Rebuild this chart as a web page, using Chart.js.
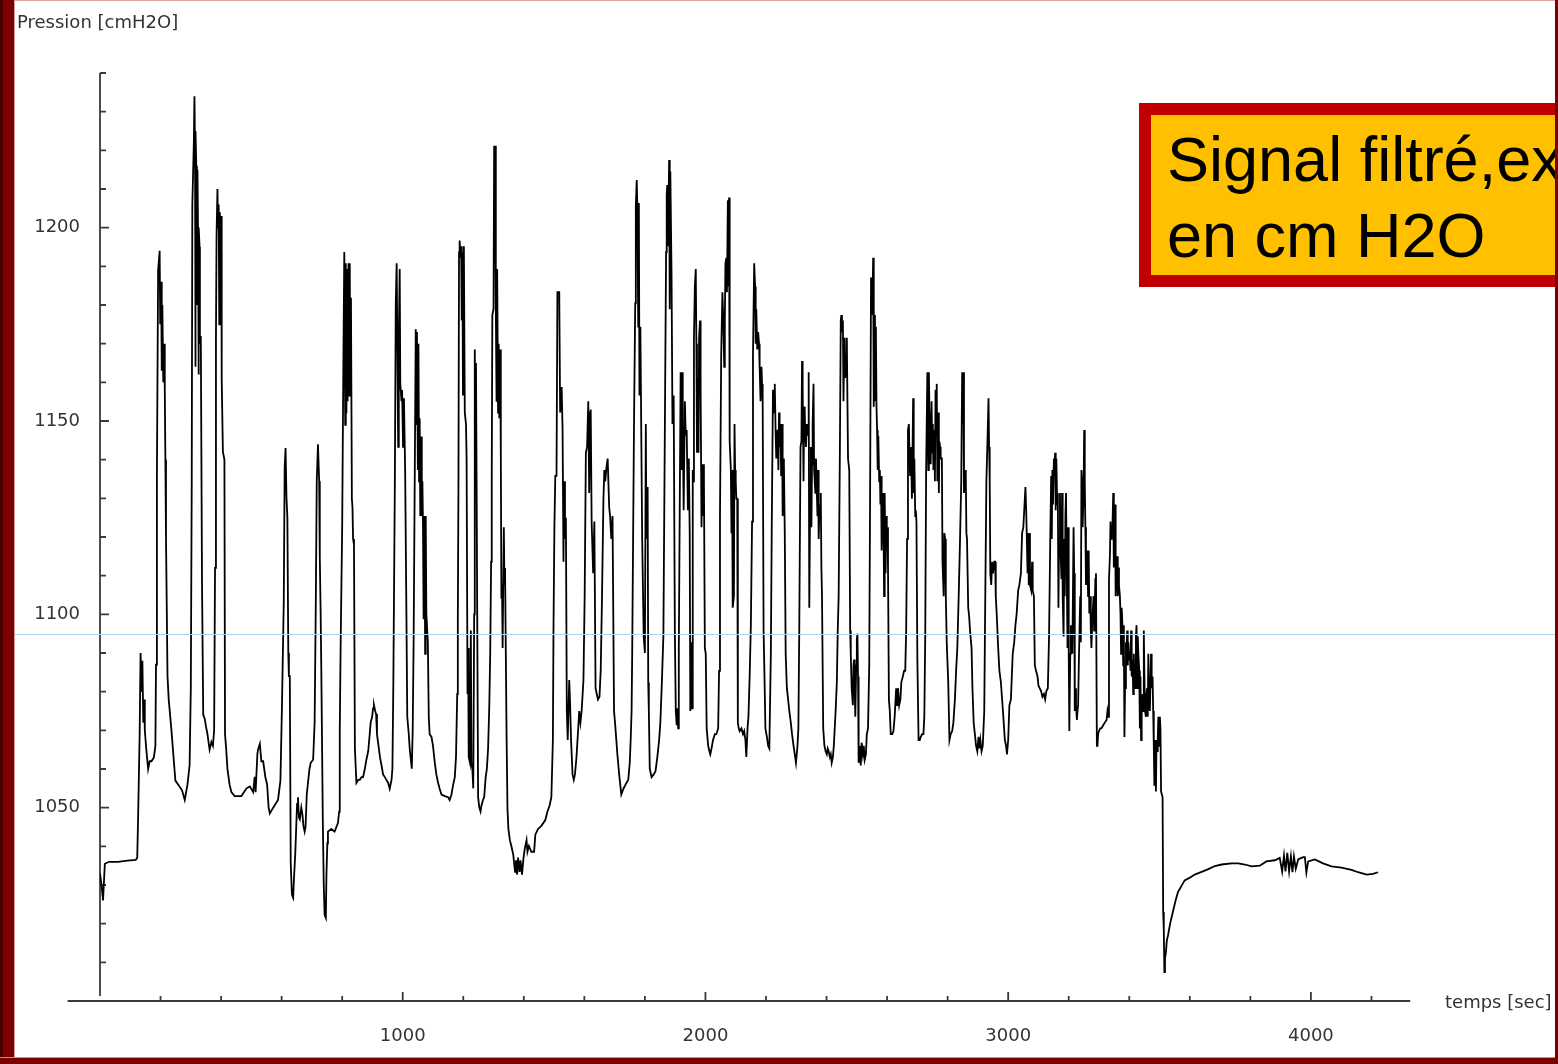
<!DOCTYPE html>
<html lang="fr">
<head>
<meta charset="utf-8">
<title>Pression [cmH2O]</title>
<script src="https://cdn.jsdelivr.net/npm/chart.js@4/dist/chart.umd.min.js"></script>
<style>
  html, body { margin: 0; padding: 0; background: #fff; }
  #page { position: relative; width: 1558px; height: 1064px; overflow: hidden; background: #fff; }
  #chart { position: absolute; left: 0; top: 0; }
  .axis-title { position: absolute; font-family: 'DejaVu Sans', sans-serif; font-size: 18px; line-height: 20px; color: #333; white-space: nowrap; }
  #yTitle { left: 17px; top: 12px; }
  #xTitle { left: 1445px; top: 992px; }
  #note { position: absolute; left: 1139px; top: 103px; width: 416px; height: 184px; overflow: hidden; }
  #note .box { position: absolute; left: 0; top: 0; width: 800px; height: 160px; border: 12px solid #c00000; background: #ffc000; }
  #note .txt { position: absolute; left: 16px; top: 6px; font-family: 'Liberation Sans', Arial, sans-serif; font-size: 63px; line-height: 76px; color: #000; white-space: nowrap; }
  .frame { position: absolute; }
  #frameTop { left: 0; top: 0; width: 1558px; height: 1px; background: #dfa3a3; }
  #frameLeft { left: 0; top: 0; width: 14px; height: 1064px; background: linear-gradient(to right, #4a0000 0, #4a0000 3px, #7b0000 3px, #7b0000 14px); border-right: 1px solid #d59a9a; }
  #frameBottom { left: 0; top: 1057px; width: 1558px; height: 7px; background: #7b0000; border-top: 1px solid #c98a8a; box-sizing: border-box; }
  #frameRight { left: 1555px; top: 0; width: 3px; height: 1064px; background: #7b0000; }
</style>
</head>
<body>
<div id="page">
  <canvas id="chart" width="1558" height="1064"></canvas>
  <div class="axis-title" id="yTitle">Pression [cmH2O]</div>
  <div class="axis-title" id="xTitle">temps [sec]</div>
  <div id="note"><div class="box"><div class="txt">Signal filtré,ex<br>en cm H2O</div></div></div>
  <div class="frame" id="frameTop"></div>
  <div class="frame" id="frameLeft"></div>
  <div class="frame" id="frameBottom"></div>
  <div class="frame" id="frameRight"></div>
</div>
<script>
// Tick labels shown on each axis
const xTickLabels = [1000, 2000, 3000, 4000];
const yTickLabels = [1050, 1100, 1150, 1200];

// Axis extents (seconds / cmH2O)
const xRange = [0, 4400];
const yRange = [1000, 1240];
const xAxisSpan = [-107, 4328];
const yAxisFoot = 1001.3;
const guideLevel = 1094.8;

// Pressure samples as [temps (s), pression (cmH2O)]
const mesures_0000_0624 = [
  [0,1033],[5,1030],[10,1026],[16,1035.5],[30,1036],[60,1036],[90,1036.3],[118,1036.5],[123,1037],[126,1048],
  [131,1069],[134,1090],[138,1080],[140,1088],[143,1072],[146,1078],[148,1070],[153,1065],[159,1060],[164,1062],
  [170,1062],[178,1063],[183,1066],[185,1087],[188,1136],[192,1189],[197,1194],[199,1175],[202,1186],[204,1163],
  [206,1180],[209,1160],[212,1170],[214,1158],[216,1140],[218,1120],[223,1084],[227,1078],[236,1070],[249,1057],
  [258,1056],[271,1054.5],[280,1052],[289,1056],[296,1061],[300,1081],[303,1134],[305,1206],[310,1222],[312,1234],
  [314,1219],[315,1164],[316,1225],[318,1216],[320,1180],[322,1215],[324,1198],[325,1162],[327,1200],[329,1195],
  [330,1170],[333,1172],[337,1108],[341,1074],[346,1073],[350,1071],[355,1069],[362,1065],[368,1067],[373,1066],
  [377,1070],[380,1112],[383,1171],[385,1198],[388,1210],[390,1200],[392,1206],[394,1175],[396,1204],[399,1178],
  [401,1203],[402,1161],[406,1142],[411,1140],[413,1069],[417,1065],[421,1060],[428,1056],[434,1054],[445,1053],
  [467,1053],[484,1055],[495,1055.5],[506,1054],[511,1058],[514,1054],[520,1064],[522,1065],[528,1066.5],[533,1062],
  [539,1062],[546,1058],[552,1056],[557,1050],[561,1048.5],[572,1050],[588,1052],[596,1057],[601,1076],[607,1103],
  [610,1138],[613,1143],[616,1130],[619,1125],[622,1090],[624,1084]
];

const mesures_0627_1257 = [
  [627,1084],[630,1035.6],[634,1027.5],[638,1026.7],[641,1032],[645,1038],[651,1051],[654,1052.7],[657,1047.5],[660,1047],
  [665,1050],[669,1048],[672,1045.3],[676,1043.8],[679,1045],[683,1053.4],[687,1056.4],[692,1060],[696,1061.6],[704,1062.4],
  [709,1072],[713,1104],[716,1134.4],[720,1144],[724,1134.4],[726,1115],[729,1099.5],[731,1086],[736,1046.8],[739,1030.4],
  [742,1022.3],[746,1021.5],[748,1032.7],[751,1040.8],[753,1043.8],[764,1044.5],[775,1043.8],[786,1046],[790,1049],[792,1069.8],
  [795,1092.8],[800,1122.5],[804,1166.3],[807,1193.7],[810,1149],[812,1190.8],[814,1152],[816,1189.3],[818,1155.1],[821,1190.8],
  [823,1156.6],[825,1190.8],[827,1156.6],[829,1181.9],[832,1129.9],[834,1127.7],[836,1119.5],[839,1118],[842,1065.3],[847,1056.4],
  [853,1057.2],[858,1057.2],[864,1057.9],[869,1057.9],[875,1060.1],[880,1062.4],[886,1064.6],[891,1069],[894,1072],[899,1073.5],
  [902,1075.7],[905,1076.5],[909,1075],[912,1074.2],[915,1069],[920,1066],[925,1063],[930,1060.9],[935,1058.6],[941,1057.9],
  [946,1057.2],[952,1056.4],[957,1054.9],[963,1057.2],[966,1060.1],[969,1082.4],[974,1134.4],[977,1180.4],[980,1190.8],[982,1171.5],
  [985,1143.3],[987,1171.5],[990,1189.3],[992,1159.6],[996,1155.1],[998,1158],[1001,1143.3],[1004,1155.9],[1008,1137.3],[1012,1101.7],
  [1015,1073.5],[1020,1069],[1023,1065.3],[1026,1063],[1030,1060.1],[1033,1070.5],[1036,1092.8],[1040,1138.8],[1043,1173.7],[1045,1149.2],
  [1047,1173],[1050,1137.3],[1052,1170],[1054,1134.4],[1056,1150.7],[1058,1125.4],[1061,1146],[1063,1125.4],[1065,1134.4],[1067,1122.5],
  [1069,1098.7],[1072,1125.4],[1074,1089.8],[1076,1125.4],[1078,1100.2],[1080,1100.2],[1083,1092.8],[1086,1073.5],[1089,1069],[1095,1068.3],
  [1100,1066],[1106,1061.6],[1111,1058.6],[1117,1056.4],[1122,1054.9],[1128,1053.4],[1139,1053],[1150,1052.7],[1155,1052],[1161,1053.4],
  [1166,1055.7],[1172,1057.9],[1176,1063.1],[1180,1079.4],[1182,1098.7],[1184,1132.1],[1186,1193.7],[1188,1196.7],[1191,1192.2],[1193,1195.2],
  [1195,1176],[1197,1193.7],[1199,1156.6],[1202,1195.2],[1205,1152.2],[1209,1149.2],[1211,1140.3],[1214,1079.4],[1216,1091.3],[1218,1063.1],
  [1222,1061.6],[1225,1095.8],[1227,1061.6],[1230,1060],[1233,1055],[1236,1100],[1238,1168.5],[1240,1150],[1242,1165],[1244,1134.4],
  [1246,1101],[1249,1052.7],[1253,1050],[1257,1049]
];

const mesures_1260_1872 = [
  [1260,1050.5],[1265,1052],[1269,1052.7],[1274,1057.9],[1278,1060.1],[1282,1065.3],[1286,1076.5],[1289,1089.8],[1292,1113.6],[1294,1134.4],
  [1296,1177.4],[1300,1179],[1302,1221.2],[1305,1215],[1307,1221.2],[1308,1179],[1310,1155],[1312,1189.3],[1315,1152.2],[1317,1170],
  [1319,1150.7],[1322,1168.5],[1324,1141.8],[1326,1104],[1328,1107.6],[1330,1091.3],[1334,1122.5],[1336,1107.6],[1338,1112],[1343,1069],
  [1346,1049.7],[1349,1044.5],[1354,1041.6],[1359,1040],[1365,1037.9],[1371,1033.4],[1374,1036.4],[1378,1032.7],[1381,1037.1],[1386,1033.4],
  [1389,1036.4],[1394,1032.7],[1399,1037.1],[1403,1039.3],[1409,1041.6],[1412,1038.6],[1417,1040.1],[1425,1038.6],[1434,1038.6],[1438,1043],
  [1447,1044.5],[1458,1045.3],[1471,1046.8],[1478,1049],[1485,1050.5],[1491,1052.7],[1496,1067.5],[1498,1095.8],[1501,1122.5],[1504,1135.8],
  [1508,1135.8],[1511,1183.3],[1517,1183.3],[1520,1152.2],[1525,1158.8],[1528,1147.7],[1531,1113.6],[1533,1134.4],[1536,1119.5],[1539,1125],
  [1542,1075],[1545,1067.5],[1550,1083],[1553,1076.5],[1556,1067.5],[1561,1058.6],[1565,1057.2],[1569,1058.6],[1574,1063.1],[1578,1068.3],
  [1583,1075],[1587,1072],[1591,1075],[1597,1083],[1601,1104.7],[1605,1141.8],[1609,1143.3],[1613,1155.1],[1616,1131.4],[1619,1152.2],
  [1621,1153],[1624,1124],[1629,1110.6],[1633,1124],[1637,1080.9],[1641,1079.4],[1645,1078],[1650,1078.7],[1654,1085.4],[1658,1103.2],
  [1663,1129.9],[1666,1137.3],[1669,1134.4],[1673,1138],[1677,1140.3],[1682,1127.7],[1685,1125.4],[1689,1119.5],[1693,1125.4],[1698,1075],
  [1702,1071.3],[1709,1063.8],[1715,1058.6],[1722,1053.4],[1729,1054.9],[1739,1056.4],[1745,1057.2],[1750,1061.6],[1753,1067.5],[1756,1075],
  [1758,1089.8],[1761,1119.5],[1764,1149.2],[1768,1180.4],[1770,1205.6],[1773,1212.3],[1775,1205.6],[1778,1174.4],[1780,1206.4],[1782,1156.6],
  [1785,1174.4],[1791,1119.5],[1796,1094.3],[1800,1090],[1803,1149.2],[1805,1119.5],[1807,1125.4],[1809,1132.9],[1811,1082.4],[1813,1075],
  [1816,1060.1],[1822,1057.9],[1829,1058.6],[1835,1059.4],[1841,1063.1],[1847,1067.5],[1851,1072],[1856,1082.4],[1861,1094.3],[1866,1149.2],
  [1870,1193.7],[1872,1208.6]
];

const mesures_1874_2506 = [
  [1874,1211],[1876,1195.2],[1880,1217.5],[1882,1178.9],[1884,1214.5],[1888,1187.8],[1891,1149.2],[1895,1156.6],[1899,1095],[1902,1075],
  [1905,1071.3],[1907,1075.7],[1910,1070.5],[1912,1091.3],[1915,1126.9],[1918,1162.6],[1921,1137.3],[1923,1162.6],[1925,1149.2],[1928,1126.9],
  [1932,1155.1],[1935,1146.2],[1938,1147.7],[1942,1126.9],[1945,1140.3],[1948,1121],[1950,1075],[1954,1092.8],[1956,1075.7],[1958,1137.3],
  [1960,1134.4],[1962,1171.5],[1965,1184.8],[1968,1189.3],[1970,1170],[1972,1141.8],[1975,1161.1],[1977,1141.8],[1979,1171.5],[1982,1176],
  [1984,1158.1],[1987,1122.5],[1989,1138.8],[1991,1125.4],[1993,1138.8],[1995,1134.4],[1998,1091.3],[2001,1089.8],[2004,1070.5],[2009,1066],
  [2013,1064.6],[2016,1063.8],[2020,1065.3],[2025,1067.5],[2031,1069],[2036,1069],[2042,1070.5],[2045,1085.4],[2048,1125.4],[2052,1167],
  [2056,1183.3],[2059,1176],[2062,1164],[2064,1176],[2066,1190.8],[2069,1192.2],[2071,1183.3],[2074,1207.1],[2076,1184.8],[2078,1207.8],
  [2080,1144.7],[2084,1137.3],[2086,1121],[2088,1137.3],[2090,1101.7],[2094,1104.7],[2096,1149.2],[2098,1137.3],[2100,1134.4],[2102,1129.9],
  [2105,1129.9],[2107,1072],[2110,1070.5],[2113,1069.8],[2119,1070.5],[2124,1069],[2128,1069.8],[2132,1067.5],[2135,1063.1],[2139,1070.5],
  [2142,1073.5],[2146,1083.9],[2150,1097.2],[2154,1124],[2157,1167],[2161,1190.8],[2164,1184.8],[2166,1170],[2168,1178.9],[2171,1168.5],
  [2174,1173],[2177,1170],[2179,1164],[2182,1155.1],[2185,1164],[2187,1159.6],[2189,1155.1],[2192,1095.8],[2195,1083.9],[2198,1070.5],
  [2203,1068.3],[2207,1066],[2211,1065.3],[2216,1089.8],[2219,1122.5],[2223,1158.1],[2227,1152.2],[2229,1159.6],[2232,1146.2],[2234,1140.3],
  [2238,1147.7],[2241,1137.3],[2243,1152.2],[2245,1143.3],[2248,1149.2],[2250,1135.8],[2253,1149.2],[2255,1125.4],[2259,1140.3],[2262,1121],
  [2265,1089.8],[2269,1080.9],[2273,1078],[2277,1075],[2282,1072],[2286,1069],[2291,1066],[2295,1063.8],[2299,1061.6],[2304,1066],
  [2307,1070.5],[2310,1097.2],[2314,1143.3],[2317,1144.7],[2319,1165.5],[2321,1159.6],[2324,1134.4],[2326,1153.7],[2328,1152.2],[2330,1146.2],
  [2332,1143.3],[2335,1149.2],[2337,1146.2],[2339,1147.7],[2341,1162.6],[2343,1101.7],[2346,1131.4],[2348,1143.3],[2350,1122.5],[2352,1138.8],
  [2354,1149.2],[2357,1159.6],[2359,1137.3],[2361,1134.4],[2363,1131.4],[2365,1140.3],[2368,1131.4],[2370,1125.4],[2372,1137.3],[2374,1119.5],
  [2377,1128.4],[2379,1125.4],[2381,1131.4],[2383,1112.1],[2385,1104.7],[2389,1070.5],[2393,1066],[2397,1064.6],[2401,1063.8],[2404,1065.3],
  [2407,1064.6],[2411,1063.1],[2414,1063.8],[2417,1061.6],[2421,1063.1],[2424,1066],[2427,1070.5],[2430,1075],[2434,1082.4],[2437,1095.8],
  [2440,1104.7],[2444,1141.8],[2447,1176],[2449,1177.4],[2451,1173],[2454,1176],[2456,1155.1],[2458,1168.5],[2460,1171.5],[2462,1161.1],
  [2465,1167],[2467,1171.5],[2469,1155.1],[2471,1140.3],[2475,1137.3],[2478,1095.8],[2480,1089.8],[2483,1080.9],[2487,1076.5],[2489,1086.8],
  [2491,1088.3],[2493,1080.9],[2495,1073.5],[2498,1086.8],[2500,1093.5],[2502,1095],[2504,1083.9],[2506,1061.6]
];

const mesures_2510_3131 = [
  [2510,1066],[2513,1060.9],[2516,1066.8],[2520,1063.8],[2523,1066],[2526,1062.4],[2530,1063.8],[2533,1069],[2537,1070.5],[2541,1086.8],
  [2544,1132.9],[2547,1187.1],[2551,1177.4],[2554,1192.2],[2556,1153.7],[2558,1177.4],[2560,1155.1],[2563,1174.4],[2565,1153.7],[2567,1147.7],
  [2569,1137.3],[2571,1146.2],[2574,1134.4],[2576,1137.3],[2578,1128.4],[2580,1135.8],[2582,1116.5],[2586,1131.4],[2588,1126.9],[2590,1104.7],
  [2592,1131.4],[2595,1110.6],[2597,1125.4],[2599,1119.5],[2601,1122.5],[2603,1112.1],[2606,1077.9],[2609,1075],[2612,1069],[2617,1069],
  [2621,1069.8],[2625,1073.5],[2630,1080.9],[2633,1076.5],[2636,1080.9],[2640,1076.5],[2644,1078],[2647,1082.4],[2652,1083.9],[2656,1085.4],
  [2660,1085.4],[2663,1095.8],[2666,1119.5],[2669,1147.7],[2672,1149.2],[2674,1140.3],[2676,1135.8],[2679,1143.3],[2682,1129.9],[2684,1141.8],
  [2686,1155.9],[2688,1131.4],[2690,1140.3],[2693,1125.4],[2695,1126.9],[2697,1124],[2700,1088.3],[2704,1067.5],[2708,1067.5],[2711,1068.3],
  [2716,1069],[2720,1069],[2723,1073.5],[2726,1094.3],[2729,1137.3],[2733,1162.6],[2736,1137.3],[2738,1162.6],[2740,1152.2],[2742,1149.2],
  [2744,1138.8],[2747,1155.1],[2749,1141.8],[2751,1149.2],[2753,1137.3],[2755,1147.7],[2758,1134.4],[2760,1158.1],[2762,1146.2],[2764,1159.6],
  [2766,1134.4],[2769,1152.2],[2771,1131.4],[2773,1144.7],[2775,1143.3],[2777,1140.3],[2781,1140.3],[2783,1113.6],[2785,1109.1],[2787,1104.7],
  [2789,1121],[2792,1119.5],[2794,1104.7],[2797,1092.8],[2802,1082.4],[2806,1067.5],[2810,1069],[2815,1069.8],[2819,1072],[2824,1078],
  [2828,1085.4],[2832,1091.3],[2837,1106.2],[2841,1119.5],[2845,1134.4],[2848,1162.6],[2850,1149.2],[2852,1162.6],[2854,1131.4],[2858,1137.3],
  [2860,1135.8],[2862,1121],[2864,1119.5],[2868,1101.7],[2871,1099.5],[2874,1095.8],[2879,1091.3],[2882,1080.9],[2886,1072],[2890,1069],
  [2894,1066],[2898,1064.6],[2902,1068.3],[2905,1065.3],[2908,1067.5],[2912,1064.6],[2916,1066],[2921,1075],[2924,1101.7],[2928,1134.4],
  [2932,1146.2],[2935,1155.9],[2937,1143.3],[2939,1134.4],[2941,1110.6],[2944,1107.6],[2947,1113.6],[2950,1110.6],[2954,1113.6],[2957,1113.6],
  [2959,1104.7],[2962,1100.2],[2967,1091.3],[2971,1085.4],[2976,1082.4],[2980,1077.9],[2984,1073.5],[2989,1067.5],[2993,1066],[2996,1063.8],
  [3000,1067.5],[3004,1076.5],[3009,1078],[3012,1083.9],[3015,1089.8],[3020,1092.8],[3024,1097.2],[3028,1100.2],[3033,1106.2],[3037,1107.6],
  [3042,1110.6],[3046,1121],[3050,1122.5],[3054,1128.4],[3057,1132.9],[3060,1125.4],[3064,1110.6],[3066,1121],[3068,1107.6],[3070,1121],
  [3072,1107.6],[3076,1106.2],[3079,1113.6],[3081,1106.2],[3085,1104.7],[3088,1086.8],[3092,1085.4],[3097,1083.9],[3100,1081.6],[3104,1080.9],
  [3109,1080.1],[3113,1078.7],[3118,1079.4],[3122,1078],[3126,1080.1],[3131,1080.9]
];

const mesures_3135_3760 = [
  [3135,1094.3],[3139,1119.5],[3142,1135.8],[3144,1119.5],[3146,1137.3],[3148,1128.4],[3151,1140.3],[3153,1137.3],[3155,1141.8],[3157,1126.9],
  [3159,1140.3],[3162,1128.4],[3164,1131.4],[3166,1101.7],[3168,1118],[3171,1131.4],[3173,1116.5],[3176,1109.1],[3178,1131.4],[3180,1104.7],
  [3183,1094.3],[3185,1119.5],[3187,1104.7],[3189,1125.4],[3191,1131.4],[3194,1131.4],[3196,1091.3],[3198,1122.5],[3200,1089.8],[3202,1069.8],
  [3205,1089.8],[3207,1097.2],[3209,1095.8],[3212,1089.8],[3216,1122.5],[3218,1110.6],[3220,1075],[3222,1080.9],[3224,1076.5],[3227,1072.7],
  [3229,1075],[3231,1076.5],[3234,1089.8],[3238,1104.7],[3240,1092.8],[3242,1137.3],[3244,1134.4],[3246,1122.5],[3249,1131.4],[3251,1147.7],
  [3253,1134.4],[3255,1122.5],[3257,1107.6],[3260,1116.5],[3262,1113.6],[3264,1104.7],[3266,1116.5],[3268,1100.2],[3271,1104.7],[3273,1095.8],
  [3275,1091.3],[3278,1098.7],[3282,1104.7],[3284,1095.8],[3286,1101.7],[3288,1109.1],[3290,1110.6],[3293,1066],[3295,1066],[3297,1069],
  [3300,1069.8],[3304,1070.5],[3308,1070.5],[3314,1071.3],[3319,1072],[3325,1072.7],[3328,1075],[3331,1073.5],[3333,1109.1],[3336,1115],
  [3338,1124],[3340,1119.5],[3342,1122.5],[3344,1121],[3347,1131.4],[3349,1112.1],[3351,1118],[3353,1128.4],[3355,1104.7],[3358,1112.1],
  [3360,1115],[3362,1104.7],[3364,1112.1],[3366,1107.6],[3369,1104.7],[3371,1100.2],[3373,1089.8],[3375,1101.7],[3378,1095.8],[3380,1086.8],
  [3382,1097.2],[3384,1068.3],[3386,1080.9],[3389,1092.8],[3391,1089.8],[3393,1095.8],[3395,1086.8],[3397,1092.8],[3400,1088.3],[3402,1089.8],
  [3404,1085.4],[3406,1095.8],[3408,1083.9],[3411,1088.3],[3413,1079.4],[3415,1089.8],[3417,1083.9],[3419,1080.9],[3422,1094.3],[3424,1097.2],
  [3426,1080.9],[3428,1094.3],[3430,1089.8],[3433,1085.4],[3435,1070.5],[3437,1083.9],[3439,1067.5],[3441,1076.5],[3444,1079.4],[3446,1075],
  [3448,1095.8],[3450,1083.9],[3452,1075],[3455,1073.5],[3457,1079.4],[3459,1080.9],[3461,1073.5],[3463,1089.8],[3466,1076.5],[3468,1075],
  [3470,1082.4],[3472,1089.8],[3474,1080.9],[3477,1083.9],[3479,1075],[3481,1066],[3483,1055.7],[3485,1067.5],[3488,1054.2],[3490,1067.5],
  [3492,1064.6],[3494,1067.5],[3496,1073.5],[3499,1066],[3501,1073.5],[3503,1070.5],[3505,1054.2],[3507,1054.2],[3510,1052.7],[3512,1023],
  [3514,1018.6],[3516,1007.5],[3518,1011],[3521,1012.6],[3524,1015.6],[3528,1017],[3535,1020],[3544,1023],[3553,1026],[3561,1028.2],
  [3572,1029.7],[3583,1031.2],[3600,1031.9],[3616,1032.7],[3639,1033.4],[3661,1034.1],[3683,1034.9],[3705,1035.3],[3738,1035.6],[3760,1035.6]
];

const mesures_3782_4222 = [
  [3782,1035.3],[3804,1034.8],[3831,1035],[3853,1036.1],[3881,1036.4],[3897,1037],[3905,1033.5],[3911,1037.6],[3916,1033.5],[3922,1038.3],
  [3928,1033.5],[3934,1037.4],[3939,1033.3],[3944,1037.4],[3950,1034.2],[3958,1036.6],[3969,1037],[3974,1037.2],[3980,1037.2],[3985,1033.2],
  [3991,1036.1],[4013,1036.6],[4040,1035.6],[4068,1034.8],[4101,1034.5],[4134,1033.9],[4156,1033.3],[4184,1032.7],[4205,1032.9],[4222,1033.3]
];

const signal = [
  ...mesures_0000_0624, ...mesures_0627_1257, ...mesures_1260_1872, ...mesures_1874_2506,
  ...mesures_2510_3131, ...mesures_3135_3760, ...mesures_3782_4222
].map(([t, p]) => ({ x: t, y: p }));

// Axes with inward tick marks, drawn from the chart's own scales
const inwardAxes = {
  id: 'inwardAxes',
  beforeDatasetsDraw(chart) {
    const { ctx, scales: { x, y } } = chart;
    const x0 = x.getPixelForValue(0);
    const yBase = y.getPixelForValue(yRange[0]);
    ctx.save();
    ctx.strokeStyle = '#3a3a3a';
    ctx.lineWidth = 1.8;
    ctx.beginPath();
    ctx.moveTo(x.getPixelForValue(xAxisSpan[0]), yBase);
    ctx.lineTo(x.getPixelForValue(xAxisSpan[1]), yBase);
    ctx.moveTo(x0, y.getPixelForValue(yRange[1]));
    ctx.lineTo(x0, y.getPixelForValue(yAxisFoot));
    y.ticks.forEach(t => {
      if (t.value <= yRange[0]) return;
      const py = y.getPixelForValue(t.value);
      const len = t.value % 50 === 0 ? 9 : 6;
      ctx.moveTo(x0, py);
      ctx.lineTo(x0 + len, py);
    });
    x.ticks.forEach(t => {
      if (t.value <= 0 || t.value > xAxisSpan[1]) return;
      const px = x.getPixelForValue(t.value);
      const len = t.value % 1000 === 0 ? 9 : 5;
      ctx.moveTo(px, yBase);
      ctx.lineTo(px, yBase - len);
    });
    ctx.stroke();
    ctx.restore();
  },
  afterDatasetsDraw(chart) {
    const { ctx, scales: { y } } = chart;
    const py = Math.round(y.getPixelForValue(guideLevel)) + 0.5;
    ctx.save();
    ctx.strokeStyle = '#a8d6ee';
    ctx.lineWidth = 1;
    ctx.beginPath();
    ctx.moveTo(15, py);
    ctx.lineTo(1555, py);
    ctx.stroke();
    ctx.restore();
  }
};

const tickFont = { family: "'DejaVu Sans', sans-serif", size: 18 };

new Chart(document.getElementById('chart'), {
  type: 'line',
  data: {
    datasets: [{
      label: 'Pression',
      data: signal,
      borderColor: '#000',
      borderWidth: 1.8,
      pointRadius: 0,
      tension: 0,
      fill: false
    }]
  },
  options: {
    responsive: false,
    animation: false,
    devicePixelRatio: 1,
    layout: { padding: { left: 0, right: 126, top: 73, bottom: 0 } },
    plugins: { legend: { display: false }, tooltip: { enabled: false }, title: { display: false } },
    scales: {
      x: {
        type: 'linear',
        position: 'bottom',
        min: xRange[0],
        max: xRange[1],
        grid: { display: false, drawTicks: false },
        border: { display: false },
        ticks: {
          stepSize: 200,
          autoSkip: false,
          maxRotation: 0,
          padding: 25,
          color: '#333',
          font: tickFont,
          callback: v => xTickLabels.includes(v) ? String(v) : ''
        },
        afterFit: s => { s.height = 63; }
      },
      y: {
        type: 'linear',
        position: 'left',
        min: yRange[0],
        max: yRange[1],
        grid: { display: false, drawTicks: false },
        border: { display: false },
        ticks: {
          stepSize: 10,
          autoSkip: false,
          padding: 20,
          color: '#333',
          font: tickFont,
          callback: v => yTickLabels.includes(v) ? String(v) : ''
        },
        afterFit: s => { s.width = 100; }
      }
    }
  },
  plugins: [inwardAxes]
});
</script>
</body>
</html>
